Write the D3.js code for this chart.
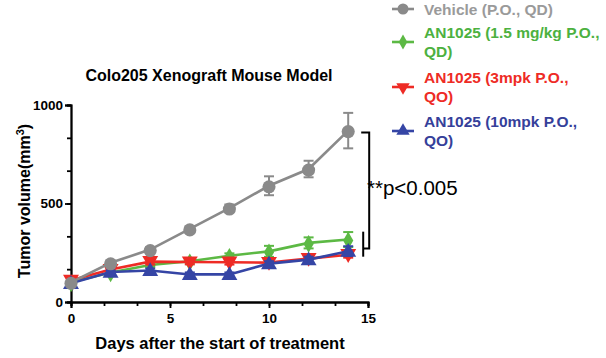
<!DOCTYPE html>
<html><head><meta charset="utf-8">
<script src="https://cdn.jsdelivr.net/npm/d3@7/dist/d3.min.js"></script>
<style>body{margin:0;background:#fff}svg{display:block}text{font-family:"Liberation Sans",Arial,sans-serif}</style>
</head><body>
<svg id="c" width="606" height="358"></svg>
<script>
const days = [0, 2, 4, 6, 8, 10, 12, 14];
const legendLines = [["Vehicle (P.O., QD)"], ["AN1025 (1.5 mg/kg P.O.,", "QD)"], ["AN1025 (3mpk P.O.,", "QO)"], ["AN1025 (10mpk P.O.,", "QO)"]];
const vehicle = [100, 199, 266, 371, 477, 590, 675, 870];
const vehicleErr = [10, 10, 12, 12, 18, 48, 42, 90];
const low = [100, 150, 188, 207, 235, 257, 300, 317];
const lowErr = [5, 8, 10, 10, 12, 28, 28, 38];
const mid = [110, 165, 205, 203, 202, 200, 220, 240];
const midErr = [10, 8, 15, 12, 12, 12, 15, 15];
const high = [95, 152, 160, 140, 140, 195, 215, 258];
const highErr = [8, 8, 10, 10, 10, 12, 15, 25];
const xTicks = [0, 5, 10, 15];
const yTicks = [0, 500, 1000];
const sigLabel = "**p<0.005";

const colors = ["#8a8a8a", "#5cb944", "#ee2b25", "#3545a5"];
const textColors = ["#9a9a9a", "#4cb140", "#ee2b25", "#35409a"];
const symbols = [d3.symbolCircle, d3.symbolDiamond, d3.symbolTriangle, d3.symbolTriangle];
const rotations = [0, 0, 180, 0];
const sizes = [135, 90, 110, 110];
const data = [vehicle, low, mid, high];
const errs = [vehicleErr, lowErr, midErr, highErr];

const svg = d3.select("#c");
const x = d3.scaleLinear().domain([0, 15]).range([71, 368]);
const y = d3.scaleLinear().domain([0, 1000]).range([302, 105]);

// title
svg.append("text").attr("x", 209).attr("y", 80.5).attr("text-anchor", "middle")
  .attr("font-weight", "bold").attr("font-size", 16).text("Colo205 Xenograft Mouse Model");

// axes
const xAxis = d3.axisBottom(x).tickValues(xTicks).tickSize(6).tickFormat(d3.format("d"));
const xMinor = d3.axisBottom(x).tickValues(d3.range(0, 15.01, 5/3)).tickSize(4).tickFormat("");
const yAxis = d3.axisLeft(y).tickValues(yTicks).tickSize(6).tickFormat(d3.format("d"));
const yMinor = d3.axisLeft(y).tickValues(d3.range(0, 1000.1, 1000/6)).tickSize(4).tickFormat("");

function style(g) {
  g.select(".domain").attr("stroke", "#000").attr("stroke-width", 1.8);
  g.selectAll(".tick line").attr("stroke", "#000").attr("stroke-width", 1.8);
  g.selectAll(".tick text").attr("font-family", "Liberation Sans, Arial, sans-serif")
    .attr("font-weight", "bold").attr("font-size", 13.5).attr("fill", "#000");
}
svg.append("g").attr("transform", "translate(0,302)").call(xMinor).call(style);
const gx = svg.append("g").attr("transform", "translate(0,302)").call(xAxis).call(style);
gx.selectAll(".tick text").attr("dy", "0.9em");
svg.append("g").attr("transform", "translate(71,0)").call(yMinor).call(style);
const gy = svg.append("g").attr("transform", "translate(71,0)").call(yAxis).call(style);
gy.selectAll(".tick text").attr("x", -8);

// axis labels
svg.append("text").attr("x", 220).attr("y", 349).attr("text-anchor", "middle")
  .attr("font-weight", "bold").attr("font-size", 16.5).text("Days after the start of treatment");
const yl = svg.append("text").attr("transform", "translate(30,201) rotate(-90)").attr("text-anchor", "middle")
  .attr("font-weight", "bold").attr("font-size", 16);
yl.append("tspan").text("Tumor volume(mm");
yl.append("tspan").attr("dy", -6).attr("font-size", 11).text("3");
yl.append("tspan").attr("dy", 6).text(")");

// series
const line = d3.line().x((d, i) => x(days[i])).y(d => y(d));
const order = [1, 2, 3, 0];
order.forEach(k => {
  const g = svg.append("g");
  const c = colors[k];
  g.selectAll(".eb").data(data[k]).join("line")
    .attr("x1", (d, i) => x(days[i])).attr("x2", (d, i) => x(days[i]))
    .attr("y1", (d, i) => y(d - errs[k][i])).attr("y2", (d, i) => y(d + errs[k][i]))
    .attr("stroke", c).attr("stroke-width", 2);
  [1, -1].forEach(s => {
    g.selectAll(".cap" + s).data(data[k]).join("line")
      .attr("x1", (d, i) => x(days[i]) - 5).attr("x2", (d, i) => x(days[i]) + 5)
      .attr("y1", (d, i) => y(d + s * errs[k][i])).attr("y2", (d, i) => y(d + s * errs[k][i]))
      .attr("stroke", c).attr("stroke-width", 2);
  });
  g.append("path").datum(data[k]).attr("d", line).attr("fill", "none")
    .attr("stroke", c).attr("stroke-width", 2.6);
  g.selectAll(".pt").data(data[k]).join("path")
    .attr("d", d3.symbol().type(symbols[k]).size(sizes[k]))
    .attr("transform", (d, i) => `translate(${x(days[i])},${y(d) + (rotations[k] ? -1 : 1)}) rotate(${rotations[k]})`)
    .attr("fill", c);
});

// significance bracket
const xe = x(14);
const br = svg.append("g").attr("stroke", "#000").attr("stroke-width", 2).attr("fill", "none");
br.append("path").attr("d", `M${xe + 13},${y(vehicle[7]) + 2} H${xe + 21} V${y(low[7] - 45)} H${xe + 15}`);
br.append("path").attr("d", `M${xe + 15},${y(low[7] + 40)} V${y(mid[7] - 10)}`);
svg.append("text").attr("x", 367).attr("y", 195).attr("font-size", 20.5).attr("fill", "#000").text(sigLabel);

// legend
const lg = svg.append("g");
const legendBase = [15, 38, 83, 127];
const legendMarkY = [9, 42, 87, 131];
legendLines.forEach((lines, k) => {
  const my = legendMarkY[k];
  lg.append("line").attr("x1", 392).attr("x2", 414).attr("y1", my).attr("y2", my)
    .attr("stroke", colors[k]).attr("stroke-width", 2.6);
  lg.append("path").attr("d", d3.symbol().type(symbols[k]).size(sizes[k] * 0.7)())
    .attr("transform", `translate(403,${my}) rotate(${rotations[k]})`).attr("fill", colors[k]);
  lines.forEach((t, j) => {
    lg.append("text").attr("x", 424).attr("y", legendBase[k] + j * 18.5).attr("font-weight", "bold")
      .attr("font-size", 15.5).attr("fill", textColors[k]).text(t);
  });
});
</script>
</body></html>
